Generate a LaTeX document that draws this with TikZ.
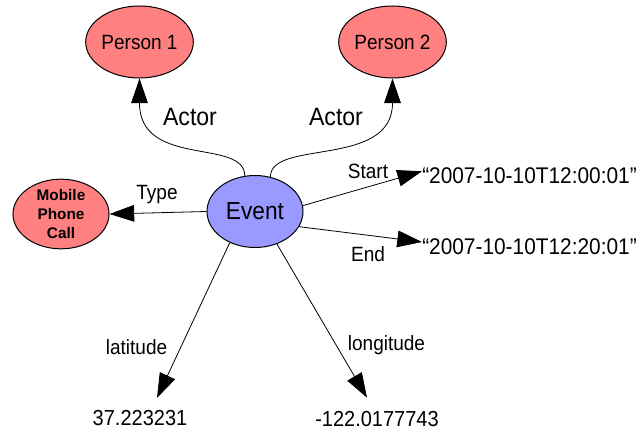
\documentclass[tikz,border=0pt]{standalone}
\usepackage{fontspec}
\setmainfont{Liberation Sans}[FakeStretch=0.92]
\newfontfamily\boldsans{Liberation Sans}
\usetikzlibrary{shapes.geometric,arrows.meta}
\definecolor{personfill}{RGB}{255,128,128}
\definecolor{eventfill}{RGB}{153,153,255}
\tikzset{
  blob/.style={ellipse, draw=black, line width=0.75pt, inner sep=0pt,
    minimum width=72pt, minimum height=54pt},
  person/.style={blob, fill=personfill, font=\fontsize{15.5}{17}\selectfont},
  eventnode/.style={blob, fill=eventfill, font=\fontsize{18.5}{20}\selectfont},
  typenode/.style={blob, fill=personfill, minimum height=51pt, align=center,
    font=\boldsans\bfseries\fontsize{11.5}{14.25}\selectfont},
  rel/.style={inner sep=0pt, anchor=base, font=\fontsize{15.5}{17}\selectfont},
  bigrel/.style={inner sep=0pt, anchor=base, font=\fontsize{18.8}{20}\selectfont},
  literal/.style={inner sep=0pt, font=\fontsize{16.3}{18}\selectfont},
  datelit/.style={inner sep=0pt, anchor=base west, font=\fontsize{17}{19}\selectfont},
  arr/.style={line width=0.6pt, -{Triangle[length=18.5pt,width=12.5pt]}}
}
\begin{document}
\begin{tikzpicture}[x=0.75pt, y=-0.75pt]
  \useasboundingbox (0,0) rectangle (643,431);
  \fill[white] (0,0) rectangle (643,431);

  % resources
  \node[person] (p1) at (139.5,42) {Person 1};
  \node[person] (p2) at (392.5,42) {Person 2};
  \node[eventnode] (ev) at (255,211.5) {Event};
  \node[typenode] (mob) at (61,214) {Mobile\\Phone\\Call};

  % literal values
  \node[datelit] (d1) at (422,183.3) {“2007-10-10T12:00:01”};
  \node[datelit] (d2) at (422,255) {“2007-10-10T12:20:01”};
  \node[literal, anchor=base] (lat) at (140,425) {37.223231};
  \node[literal, anchor=base] (lon) at (377,426.7) {-122.0177743};

  % property labels
  \node[bigrel] (la1) at (190,126) {Actor};
  \node[bigrel] (la2) at (336,126) {Actor};
  \node[rel] (lty) at (157,200) {Type};
  \node[rel] (lst) at (368,178.3) {Start};
  \node[rel] (len) at (368,261.7) {End};
  \node[rel] (llat) at (136.5,354) {latitude};
  \node[rel] (llon) at (386.5,350.7) {longitude};

  % edges
  \draw[arr] (ev.106) .. controls +(0,-38) and +(0,90) .. (p1.south);
  \draw[arr] (ev.66.5) .. controls +(0,-38) and +(0,90) .. (p2.south);
  \draw[arr] (ev.west) -- (mob.east);
  \draw[arr] (ev.7.9) -- ([yshift=9pt]d1.base west);
  \draw[arr] (ev.-19) -- ([yshift=9.75pt]d2.base west);
  \draw[arr] (ev.-129.9) -- ([shift={(12.75pt,20.25pt)}]lat.base);
  \draw[arr] (ev.-56.7) -- ([shift={(-7.5pt,21.75pt)}]lon.base);
\end{tikzpicture}
\end{document}
